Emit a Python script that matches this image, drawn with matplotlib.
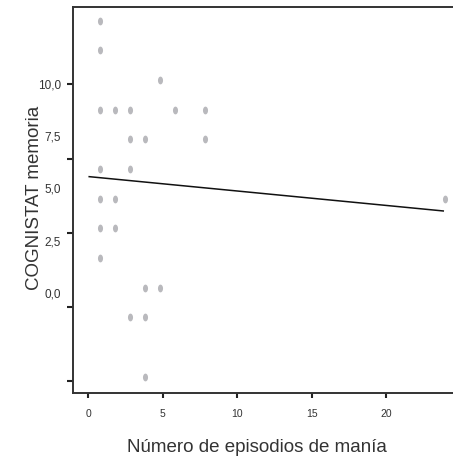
import numpy as np
import matplotlib
matplotlib.use('Agg')
import matplotlib.pyplot as plt
from matplotlib.path import Path

# Data
episodes = [1, 1, 5, 1, 2, 3, 6, 8, 3, 4, 8, 1, 3, 1, 2, 1, 2, 1, 4, 5, 3, 4, 4, 24]
memoria = [12, 11, 10, 9, 9, 9, 9, 9, 8, 8, 8, 7, 7, 6, 6, 5, 5, 4, 3, 3, 2, 2, 0, 6]

# Fit line as drawn in the chart
fit_intercept = 6.756
fit_slope = -0.049
fit_range = [0.3, 23.9]

x_tick_values = [0, 5, 10, 15, 20]
x_tick_labels = ['0', '5', '10', '15', '20']
y_tick_values = [0, 2.5, 5, 7.5, 10]
y_tick_labels = ['0,0', '2,5', '5,0', '7,5', '10,0']

plt.rcParams['font.family'] = ['Liberation Sans', 'DejaVu Sans']

fig = plt.figure(figsize=(4.53, 4.61), dpi=100)
ax = fig.add_axes([0.1618, 0.1469, 0.8382, 0.8386])

# Elliptical marker (taller than wide)
t = np.linspace(0, 2 * np.pi, 40)
ellipse = Path(np.column_stack([0.65 * np.cos(t), np.sin(t)]), closed=True)

ax.plot(episodes, memoria, linestyle='none', marker=ellipse, markersize=5.6,
        markerfacecolor='#b9b9bd', markeredgecolor='none')

fx = np.array(fit_range)
ax.plot(fx, fit_intercept + fit_slope * fx, color='#111111', linewidth=1.1)

ax.set_xlim(-0.76, 24.55)
ax.set_ylim(-0.56, 12.47)

# tick marks (SPSS places them offset from the data)
ax.set_xticks(np.array(x_tick_values) * 0.992 + 0.24, labels=x_tick_labels)
ax.set_yticks(np.array(y_tick_values) - 0.15, labels=[''] * 5)
# y labels sit apart from the tick marks in the original
ax.set_yticks(2.82 + np.array(y_tick_values) * 0.705, labels=y_tick_labels, minor=True)

ax.tick_params(axis='x', which='major', length=3.6, width=1.5, color='#222222',
               labelsize=7.5, labelcolor='#333333', pad=7.5)
ax.tick_params(axis='y', which='major', length=4.3, width=1.5, color='#222222')
ax.tick_params(axis='y', which='minor', length=0, labelsize=8.5,
               labelcolor='#333333', pad=8.9)

for side in ['left', 'bottom', 'top']:
    ax.spines[side].set_linewidth(1.4)
    ax.spines[side].set_color('#333333')
ax.spines['right'].set_visible(False)

ax.set_xlabel('Número de episodios de manía', fontsize=13.5, color='#333333', va='center')
ax.set_ylabel('COGNISTAT memoria', fontsize=13.5, color='#333333', va='center')
ax.xaxis.set_label_coords(0.484, -0.1415)
ax.yaxis.set_label_coords(-0.1009, 0.505)

fig.savefig('out.png', dpi=100)
